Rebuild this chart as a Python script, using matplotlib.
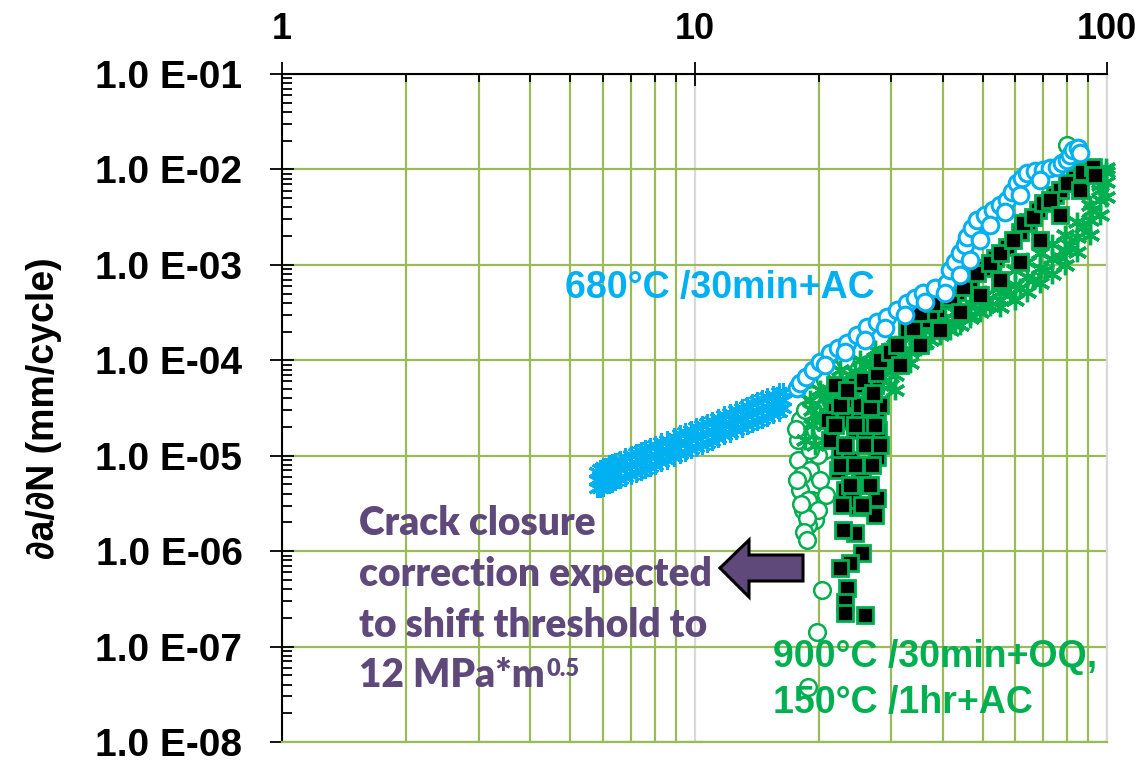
import numpy as np
import matplotlib
matplotlib.use("Agg")
import matplotlib.pyplot as plt
from matplotlib.ticker import LogLocator, FuncFormatter, NullFormatter
from matplotlib.patches import Polygon

# ---- data (delta K in MPa*m^0.5, da/dN in mm/cycle) ----
# 680C /30min+AC, low-K branch (x markers)
k_680_low = [5.8, 5.9, 6.0, 6.2, 6.3, 6.4, 6.6, 6.8, 7.0, 7.2, 7.4, 7.6, 7.8, 8.0, 8.3, 8.6, 8.9,
             9.2, 9.5, 9.8, 10.1, 10.4, 10.7, 11.0, 11.4, 11.8, 12.2, 12.6, 13.0, 13.4, 13.8,
             14.2, 14.6, 15.0, 15.5, 16.0, 16.4]
da_680_low_mid = [5.6e-6, 5.8e-6, 6.0e-6, 6.4e-6, 6.6e-6, 6.8e-6, 7.2e-6, 7.6e-6, 8.0e-6, 8.4e-6,
                  8.8e-6, 9.3e-6, 9.7e-6, 1.02e-5, 1.09e-5, 1.16e-5, 1.24e-5, 1.32e-5, 1.40e-5,
                  1.48e-5, 1.57e-5, 1.65e-5, 1.74e-5, 1.83e-5, 1.96e-5, 2.09e-5, 2.21e-5, 2.35e-5,
                  2.49e-5, 2.64e-5, 2.79e-5, 2.93e-5, 3.08e-5, 3.24e-5, 3.44e-5, 3.65e-5, 3.83e-5]
da_680_low_hi = [6.8e-6, 7.2e-6, 7.6e-6, 8.1e-6, 8.4e-6, 8.6e-6, 9.1e-6, 9.7e-6, 1.02e-5, 1.07e-5,
                 1.12e-5, 1.18e-5, 1.23e-5, 1.30e-5, 1.38e-5, 1.47e-5, 1.57e-5, 1.68e-5, 1.78e-5,
                 1.88e-5, 1.99e-5, 2.10e-5, 2.21e-5, 2.32e-5, 2.49e-5, 2.65e-5, 2.81e-5, 2.98e-5,
                 3.16e-5, 3.35e-5, 3.54e-5, 3.72e-5, 3.91e-5, 4.11e-5, 4.37e-5, 4.64e-5, 4.60e-5]
da_680_low_lo = [4.6e-6, 4.6e-6, 4.7e-6, 5.0e-6, 5.2e-6, 5.4e-6, 5.7e-6, 6.0e-6, 6.3e-6, 6.6e-6,
                 6.9e-6, 7.3e-6, 7.6e-6, 8.0e-6, 8.6e-6, 9.1e-6, 9.8e-6, 1.04e-5, 1.10e-5,
                 1.17e-5, 1.24e-5, 1.30e-5, 1.37e-5, 1.44e-5, 1.54e-5, 1.65e-5, 1.74e-5, 1.85e-5,
                 1.96e-5, 2.08e-5, 2.20e-5, 2.31e-5, 2.43e-5, 2.55e-5, 2.71e-5, 2.87e-5, 3.20e-5]

# 680C /30min+AC, high-K branch (open circles)
k_680_high = [17.69, 17.98, 18.60, 19.34, 20.11, 21.27, 22.24, 23.38, 24.74, 26.16, 27.65, 29.24,
              30.93, 32.70, 34.20, 35.76, 38.24, 40.90, 41.58, 42.76, 43.97, 45.22, 45.73, 47.02,
              48.36, 50.56, 52.87, 54.99, 57.19, 58.81, 60.48, 62.19, 63.95, 66.87, 69.93, 72.72,
              75.60, 77.75, 79.96, 81.32, 82.70, 85.04, 86.01,
              20.68, 23.13, 25.86, 28.92, 32.33, 36.16, 40.44, 43.97, 46.50, 49.17, 52.00, 56.54,
              61.50, 68.78]
da_680_high = [5.11e-5, 5.77e-5, 6.67e-5, 7.89e-5, 9.57e-5, 1.19e-4, 1.34e-4, 1.51e-4, 1.84e-4,
               2.23e-4, 2.51e-4, 2.84e-4, 3.36e-4, 3.98e-4, 4.49e-4, 5.06e-4, 5.71e-4, 6.44e-4,
               8.81e-4, 1.07e-3, 1.33e-3, 1.61e-3, 1.96e-3, 2.43e-3, 2.95e-3, 3.33e-3, 3.75e-3,
               4.24e-3, 4.78e-3, 5.79e-3, 7.20e-3, 8.13e-3, 9.17e-3, 9.62e-3, 9.86e-3, 1.035e-2,
               1.06e-2, 1.17e-2, 1.26e-2, 1.42e-2, 1.60e-2, 1.68e-2, 1.49e-2,
               8.91e-5, 1.22e-4, 1.63e-4, 2.18e-4, 2.98e-4, 4.07e-4, 5.06e-4, 7.82e-4, 1.12e-3,
               1.82e-3, 2.61e-3, 3.57e-3, 5.39e-3, 7.74e-3]

# 900C /30min+OQ, 150C /1hr+AC, specimen 1 (open circles)
k_900_circ = [17.98, 18.49, 17.78, 19.02, 17.98, 19.23, 18.29, 19.56, 18.81, 20.11, 20.68, 19.56,
              20.11, 21.27, 19.23, 20.68, 21.88, 23.13, 18.49, 19.89, 18.19, 20.80, 17.78, 19.02,
              20.34, 18.81, 19.89, 18.70, 17.60, 17.70, 18.10, 18.40,
              18.70, 20.34, 19.78, 18.81, 79.96]
da_900_circ = [2.36e-5, 1.46e-5, 8.99e-6, 7.06e-6, 4.36e-6, 3.43e-6, 2.69e-6, 2.11e-6, 1.87e-6,
               5.55e-6, 1.15e-5, 1.85e-5, 3.01e-5, 3.83e-5, 4.31e-5, 6.20e-5, 7.89e-5, 1.00e-4,
               3.01e-5, 1.01e-5, 6.26e-6, 3.86e-6, 1.46e-5, 1.15e-5, 1.85e-5, 3.43e-6, 2.69e-6,
               2.20e-6, 1.90e-5, 5.60e-6, 3.10e-6, 1.60e-6,
               1.30e-6, 3.90e-7, 1.42e-7, 3.75e-8, 1.80e-2]

# 900C /30min+OQ, 150C /1hr+AC, specimen 2 (filled squares)
k_900_sq = [27.7, 27.8, 27.7, 25.15, 27.7, 27.35, 24.87, 24.45, 22.87, 25.43, 23.78, 22.49, 23.38,
            23.13, 23.13, 25.86,
            21.88, 23.13, 24.45, 25.86, 22.49, 23.78, 25.43, 23.13, 26.30, 24.05, 22.24, 21.27,
            21.03, 23.78, 25.15, 26.60,
            21.88, 24.45, 27.35, 22.49, 25.15, 28.12, 21.88, 24.45, 27.35, 23.13, 25.86, 28.12,
            22.49, 24.45, 26.90, 23.78, 26.60, 22.75, 25.43,
            23.38, 25.57, 26.60, 27.04, 27.65, 28.12, 32.70, 35.76, 38.68,
            29.74, 30.93, 33.82, 37.19, 39.99, 43.25, 46.50, 50.00, 53.47, 57.19, 61.50, 64.31,
            68.01, 74.78, 76.89, 83.62, 89.92,
            35.16, 37.81, 41.58, 44.72, 48.36, 52.00, 54.99, 59.14, 62.54, 66.14, 69.93, 72.72,
            79.96, 86.98, 92.47,
            31.45, 35.16, 39.33, 43.97, 49.17, 54.99, 61.50, 68.78, 76.89, 86.01, 93.52]
da_900_sq = [2.86e-5, 1.85e-5, 9.66e-6, 5.97e-6, 3.60e-6, 2.38e-6, 2.89e-6, 1.55e-6, 1.66e-6,
             9.53e-7, 7.48e-7, 6.64e-7, 4.09e-7, 2.92e-7, 2.24e-7, 2.13e-7,
             3.01e-5, 2.36e-5, 1.85e-5, 1.46e-5, 1.15e-5, 8.99e-6, 7.06e-6, 4.36e-6, 4.92e-6,
             3.43e-6, 7.06e-6, 1.46e-5, 2.36e-5, 3.83e-5, 2.67e-5, 2.09e-5,
             5.50e-5, 5.50e-5, 5.50e-5, 3.39e-5, 3.39e-5, 3.39e-5, 2.09e-5, 2.09e-5, 2.09e-5,
             1.29e-5, 1.29e-5, 1.29e-5, 7.96e-6, 7.96e-6, 7.96e-6, 4.92e-6, 4.92e-6, 3.03e-6,
             3.03e-6,
             4.87e-5, 6.20e-5, 3.23e-5, 4.53e-5, 7.35e-5, 1.00e-4, 2.07e-4, 2.64e-4, 3.36e-4,
             1.22e-4, 1.44e-4, 2.18e-4, 3.20e-4, 4.28e-4, 5.19e-4, 6.93e-4, 9.25e-4, 1.18e-3,
             1.54e-3, 2.21e-3, 2.81e-3, 3.75e-3, 5.39e-3, 6.08e-3, 8.13e-3, 9.86e-3,
             3.13e-4, 3.98e-4, 4.60e-4, 5.85e-4, 8.20e-4, 1.04e-3, 1.33e-3, 1.82e-3, 2.74e-3,
             3.17e-3, 4.45e-3, 4.78e-3, 7.20e-3, 9.39e-3, 1.06e-2,
             8.91e-5, 1.44e-4, 2.07e-4, 3.20e-4, 4.82e-4, 6.93e-4, 1.07e-3, 1.82e-3, 3.33e-3,
             6.08e-3, 8.73e-3]

# 900C /30min+OQ, 150C /1hr+AC, specimen 3 (x markers)
k_900_x = [18.49, 19.23, 20.11, 21.27, 22.49, 23.78, 25.15, 26.60, 28.12, 29.74, 31.45, 33.26,
           35.16, 37.19, 39.33, 41.58, 43.97, 46.50, 49.17, 52.00, 54.99, 58.15, 61.50, 66.14,
           70.71, 76.89, 81.32, 87.45, 91.95, 96.16, 99.5,
           19.23, 20.68, 22.49, 24.45, 26.60, 28.92, 31.45, 34.20, 37.19, 40.44, 43.97,
           19.56, 21.27, 23.13, 25.15, 27.35, 29.74,
           21.88, 21.88, 21.88, 23.78, 23.78, 23.78, 23.78, 25.86, 25.86, 25.86, 25.86,
           28.12, 28.12, 28.12, 28.12, 30.58, 30.58, 30.58, 30.58, 33.26, 33.26, 33.26,
           36.16, 36.16, 39.33, 39.33, 42.76, 42.76, 46.50, 46.50, 50.56, 50.56, 54.99, 54.99,
           54.99, 59.79, 63.95, 68.78, 73.54, 79.08, 84.56, 90.91, 96.16, 99.5,
           54.99, 59.79, 63.95, 68.78, 73.54, 79.08, 84.56, 90.91, 96.16, 99.5,
           54.99, 59.79, 63.95, 68.78, 73.54, 79.08, 84.56, 90.91, 96.16, 99.5,
           19.02, 20.11, 19.56, 20.68, 21.27, 22.49, 25.15, 27.35]
da_900_x = [1.46e-5, 2.09e-5, 2.67e-5, 3.39e-5, 4.31e-5, 5.11e-5, 5.91e-5, 6.83e-5, 7.89e-5,
            8.91e-5, 1.05e-4, 1.22e-4, 1.41e-4, 1.63e-4, 1.84e-4, 2.07e-4, 2.34e-4, 2.77e-4,
            3.20e-4, 3.70e-4, 4.28e-4, 4.94e-4, 5.71e-4, 6.93e-4, 8.81e-4, 1.21e-3, 1.61e-3,
            2.49e-3, 3.75e-3, 6.08e-3, 9.39e-3,
            3.01e-5, 4.02e-5, 5.77e-5, 7.52e-5, 9.57e-5, 1.22e-4, 1.48e-4, 1.84e-4, 2.28e-4,
            2.77e-4, 3.36e-4,
            1.29e-5, 1.85e-5, 2.48e-5, 3.39e-5, 4.31e-5, 5.50e-5,
            5.50e-5, 3.83e-5, 2.67e-5, 7.00e-5, 4.64e-5, 3.01e-5, 2.09e-5, 8.91e-5, 6.20e-5,
            4.31e-5, 3.01e-5, 1.13e-4, 7.89e-5, 5.50e-5, 3.83e-5, 1.44e-4, 1.00e-4, 7.00e-5,
            4.87e-5, 1.75e-4, 1.28e-4, 9.35e-5, 2.07e-4, 1.51e-4, 2.64e-4, 1.93e-4, 3.20e-4,
            2.34e-4, 3.98e-4, 2.98e-4, 4.82e-4, 3.61e-4, 5.85e-4, 4.28e-4,
            5.19e-4, 6.14e-4, 7.45e-4, 9.25e-4, 1.15e-3, 1.43e-3, 1.96e-3, 2.95e-3, 4.78e-3, 7.38e-3,
            7.45e-4, 8.81e-4, 1.07e-3, 1.33e-3, 1.65e-3, 2.05e-3, 2.81e-3, 4.24e-3, 6.86e-3, 1.035e-2,
            3.61e-4, 4.28e-4, 5.19e-4, 6.44e-4, 8.01e-4, 9.95e-4, 1.36e-3, 2.05e-3, 3.33e-3, 5.14e-3,
            3.83e-5, 4.87e-5, 2.67e-5, 2.09e-5, 4.87e-5, 7.89e-5, 1.00e-4, 1.28e-4]

x_ticks = [1, 10, 100]
y_ticks = [1e-8, 1e-7, 1e-6, 1e-5, 1e-4, 1e-3, 1e-2, 1e-1]

# ---- colours ----
cyan = "#00B0F0"
green = "#00B050"
grid_green = "#9BBB59"
purple = "#5F497A"

W, H = 1140, 763


def fx(x):
    return x / W


def fy(y):
    return 1 - y / H


fig = plt.figure(figsize=(W / 100, H / 100), dpi=100)
ax = fig.add_axes([fx(282), fy(742), (1107 - 282) / W, (742 - 74) / H])
ax.set_xscale("log")
ax.set_yscale("log")
ax.set_xlim(1, 100)
ax.set_ylim(1e-8, 1e-1)

# grid
ax.set_axisbelow(True)
ax.xaxis.set_minor_locator(LogLocator(base=10, subs=np.arange(2, 10)))
ax.yaxis.set_minor_locator(LogLocator(base=10, subs=np.arange(2, 10), numticks=20))
ax.grid(which="minor", axis="x", color=grid_green, lw=1.6)
ax.grid(which="major", axis="x", color="#D9D9D9", lw=1.6)
ax.grid(which="major", axis="y", color=grid_green, lw=1.6)

for s in ["top", "left"]:
    ax.spines[s].set_color("black")
    ax.spines[s].set_linewidth(1.5)
ax.spines["bottom"].set_color(grid_green)
ax.spines["bottom"].set_linewidth(1.6)
ax.spines["right"].set_color("#D9D9D9")
ax.spines["right"].set_linewidth(1.6)

# ticks
ax.xaxis.tick_top()
ax.set_xticks(x_ticks)
ax.set_yticks(y_ticks)
ax.xaxis.set_major_formatter(FuncFormatter(lambda v, p: f"{v:g}"))
ax.yaxis.set_major_formatter(
    FuncFormatter(lambda v, p: f"1.0 E-{int(round(-np.log10(v))):02d}"))
ax.xaxis.set_minor_formatter(NullFormatter())
ax.yaxis.set_minor_formatter(NullFormatter())
ax.tick_params(axis="x", which="major", direction="inout", length=17, width=1.3, pad=11,
               top=True, bottom=False)
ax.tick_params(axis="x", which="minor", direction="in", length=6, width=1.3,
               top=True, bottom=False)
ax.tick_params(axis="y", which="major", direction="inout", length=17, width=1.3, pad=20)
ax.tick_params(axis="y", which="minor", direction="in", length=7, width=1.3)
for lab in ax.get_xticklabels():
    lab.set_fontfamily("Liberation Sans")
    lab.set_fontweight("bold")
    lab.set_fontsize(26)
for lab in ax.get_yticklabels():
    lab.set_fontfamily("Liberation Sans")
    lab.set_fontweight("bold")
    lab.set_fontsize(28)

ax.set_ylabel("∂a/∂N (mm/cycle)", fontsize=27, fontweight="bold",
              fontfamily="Liberation Sans")
ax.yaxis.set_label_coords(-0.267, 0.5)

# ---- data ----
star = (6, 2, 0)
ax.plot(k_900_circ, da_900_circ, ls="none", marker="o", ms=12, mfc="white", mec=green,
        mew=1.8, zorder=3)
ax.plot(k_900_x, da_900_x, ls="none", marker=star, ms=14, mew=2.4, color=green, zorder=4,
        clip_on=False)
ax.plot(k_900_sq, da_900_sq, ls="none", marker="s", ms=11, mfc="black", mec=green,
        mew=2, zorder=5)
for da_row in (da_680_low_hi, da_680_low_lo, da_680_low_mid):
    ax.plot(k_680_low, da_row, ls="none", marker=star, ms=13, mew=2.2, color=cyan, zorder=6)
ax.plot(k_680_high, da_680_high, ls="none", marker="o", ms=12, mfc="white", mec=cyan,
        mew=2.2, zorder=7)

# ---- labels ----
lab_font = dict(fontfamily="Liberation Sans", fontweight="bold", fontsize=27)
fig.text(fx(565), fy(298), "680°C /30min+AC", color=cyan, va="baseline", **lab_font)
fig.text(fx(773), fy(667), "900°C /30min+OQ,", color=green, va="baseline", **lab_font)
fig.text(fx(773), fy(713), "150°C /1hr+AC", color=green, va="baseline", **lab_font)

note_font = dict(fontfamily="Lato", fontweight="heavy", fontsize=28, color=purple)
fig.text(fx(359), fy(535), "Crack closure", va="baseline", **note_font)
fig.text(fx(359), fy(586), "correction expected", va="baseline", **note_font)
fig.text(fx(359), fy(637), "to shift threshold to", va="baseline", **note_font)
last = fig.text(fx(359), fy(687), "12 MPa*m", va="baseline", **note_font)
fig.canvas.draw()
ax.annotate("0.5", xy=(1, 1), xycoords=last, xytext=(1, -1), textcoords="offset points",
            ha="left", va="top", fontfamily="Lato", fontweight="heavy", fontsize=17,
            color=purple, annotation_clip=False)

arrow = [(720, 568), (749, 540), (749, 555), (803, 555), (803, 581), (749, 581), (749, 597)]
fig.patches.append(Polygon([(fx(x), fy(y)) for x, y in arrow], closed=True,
                           transform=fig.transFigure, facecolor=purple, edgecolor="black",
                           lw=2.2, joinstyle="miter"))

fig.savefig("out.png", dpi=100)
